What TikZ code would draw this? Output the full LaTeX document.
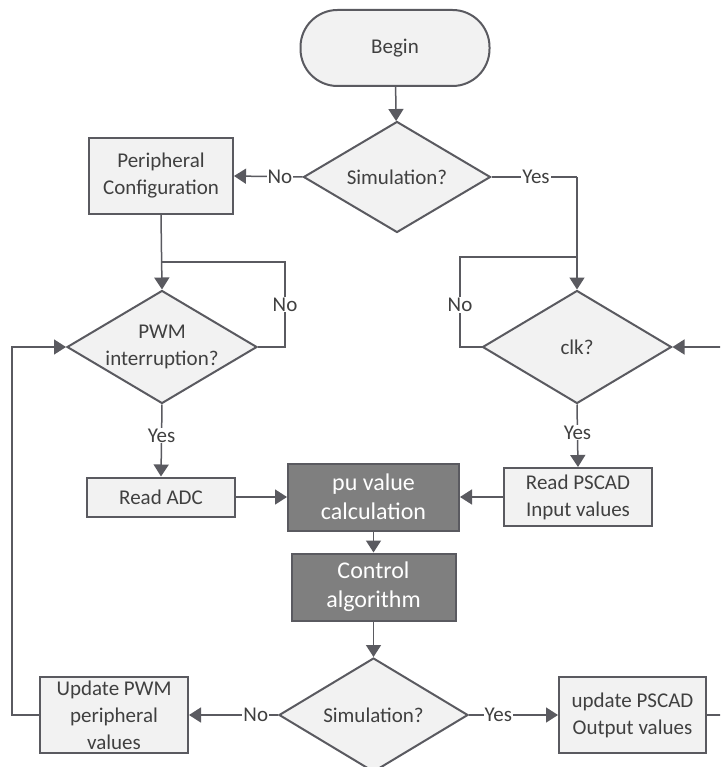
\documentclass[tikz,border=0pt]{standalone}
\usepackage{fontspec}
\setmainfont{Carlito}
\usetikzlibrary{shapes.geometric,arrows.meta}
\definecolor{lnc}{HTML}{5A5A60}
\definecolor{lfill}{HTML}{F2F2F2}
\definecolor{dfill}{HTML}{7F7F7F}
\definecolor{txt}{HTML}{404040}
\tikzset{
  base/.style={draw=lnc, line width=2pt, text=txt, font=\fontsize{21}{27}\selectfont, align=center, inner sep=0pt},
  lbox/.style={base, rectangle, fill=lfill},
  dbox/.style={base, rectangle, fill=dfill, text=white, font=\fontsize{24}{29}\selectfont},
  term/.style={base, rectangle, fill=lfill, rounded corners=37pt},
  dec/.style={base, diamond, fill=lfill, aspect=1.67, inner sep=-8pt},
  conn/.style={draw=lnc, line width=1.5pt},
  arr/.style={conn, -{Triangle[width=15pt,length=12pt]}},
  lab/.style={fill=white, text=txt, font=\fontsize{21}{27}\selectfont, inner sep=1pt}
}
\begin{document}
\begin{tikzpicture}[x=1pt,y=-1pt]
\useasboundingbox (0,0) rectangle (720,767);
\clip (0,0) rectangle (720,767);
\fill[white] (0,0) rectangle (720,767);
% nodes
\node[term, minimum width=189, minimum height=76] (begin) at (395,48) {Begin};
\node[dec, minimum width=187, minimum height=111] (sim1) at (397,177) {Simulation?};
\node[lbox, minimum width=144, minimum height=76] (periph) at (161,176) {Peripheral\\Configuration};
\node[dec, minimum width=190, minimum height=113] (pwm) at (162,347) {PWM\\interruption?};
\node[dec, minimum width=189, minimum height=113] (clk) at (577,347) {clk?};
\node[lbox, minimum width=148, minimum height=39] (adc) at (161,497) {Read ADC};
\node[dbox, minimum width=171, minimum height=67] (pu) at (373.5,497) {pu value\\calculation};
\node[lbox, minimum width=148, minimum height=58] (rpscad) at (578,497) {Read PSCAD\\Input values};
\node[dbox, minimum width=164, minimum height=67] (ctrl) at (373.5,587) {Control\\algorithm};
\node[dec, minimum width=189, minimum height=114] (sim2) at (373.5,715) {Simulation?};
\node[lbox, minimum width=148, minimum height=76] (updpwm) at (114,715) {Update PWM\\peripheral\\values};
\node[lbox, minimum width=147, minimum height=76] (updpscad) at (632.5,715) {update PSCAD\\Output values};
% helper coordinates
\coordinate (yesc) at (clk.north |- sim1.east);
\coordinate (jr) at (clk.north |- 0,257);
\coordinate (jrl) at (460,257);
\coordinate (jrb) at (460,347);
\coordinate (jl) at (pwm.north |- 0,262);
\coordinate (jlr) at (285,262);
\coordinate (jlb) at (285,347);
\coordinate (lb) at (12,715);
\coordinate (lt) at (12,347);
\coordinate (rb) at (740,715);
\coordinate (rt) at (740,347);
% connectors
\draw[arr] (begin) -- (sim1);
\draw[arr] (sim1.west) -- node[lab, pos=0.33] {No} (periph.east);
\draw[conn] (sim1.east) -- node[lab, pos=0.52] {Yes} (yesc);
\draw[arr] (yesc) -- (clk.north);
\draw[conn] (clk.west) -- (jrb) -- node[lab, pos=0.47] {No} (jrl) -- (jr);
\draw[arr] (periph.south) -- (pwm.north);
\draw[conn] (pwm.east) -- (jlb) -- node[lab, pos=0.5] {No} (jlr) -- (jl);
\draw[arr] (pwm.south) -- node[lab, pos=0.43] {Yes} (adc.north);
\draw[arr] (clk.south) -- node[lab, pos=0.45] {Yes} (rpscad.north);
\draw[arr] (adc.east) -- (pu.west);
\draw[arr] (rpscad.west) -- (pu.east);
\draw[arr] (pu.south) -- (ctrl.north);
\draw[arr] (ctrl.south) -- (sim2.north);
\draw[arr] (sim2.west) -- node[lab, pos=0.25] {No} (updpwm.east);
\draw[arr] (sim2.east) -- node[lab, pos=0.33] {Yes} (updpscad.west);
\draw[arr] (updpwm.west) -- (lb) -- (lt) -- (pwm.west);
\draw[arr] (updpscad.east) -- (rb) -- (rt) -- (clk.east);
\end{tikzpicture}
\end{document}
